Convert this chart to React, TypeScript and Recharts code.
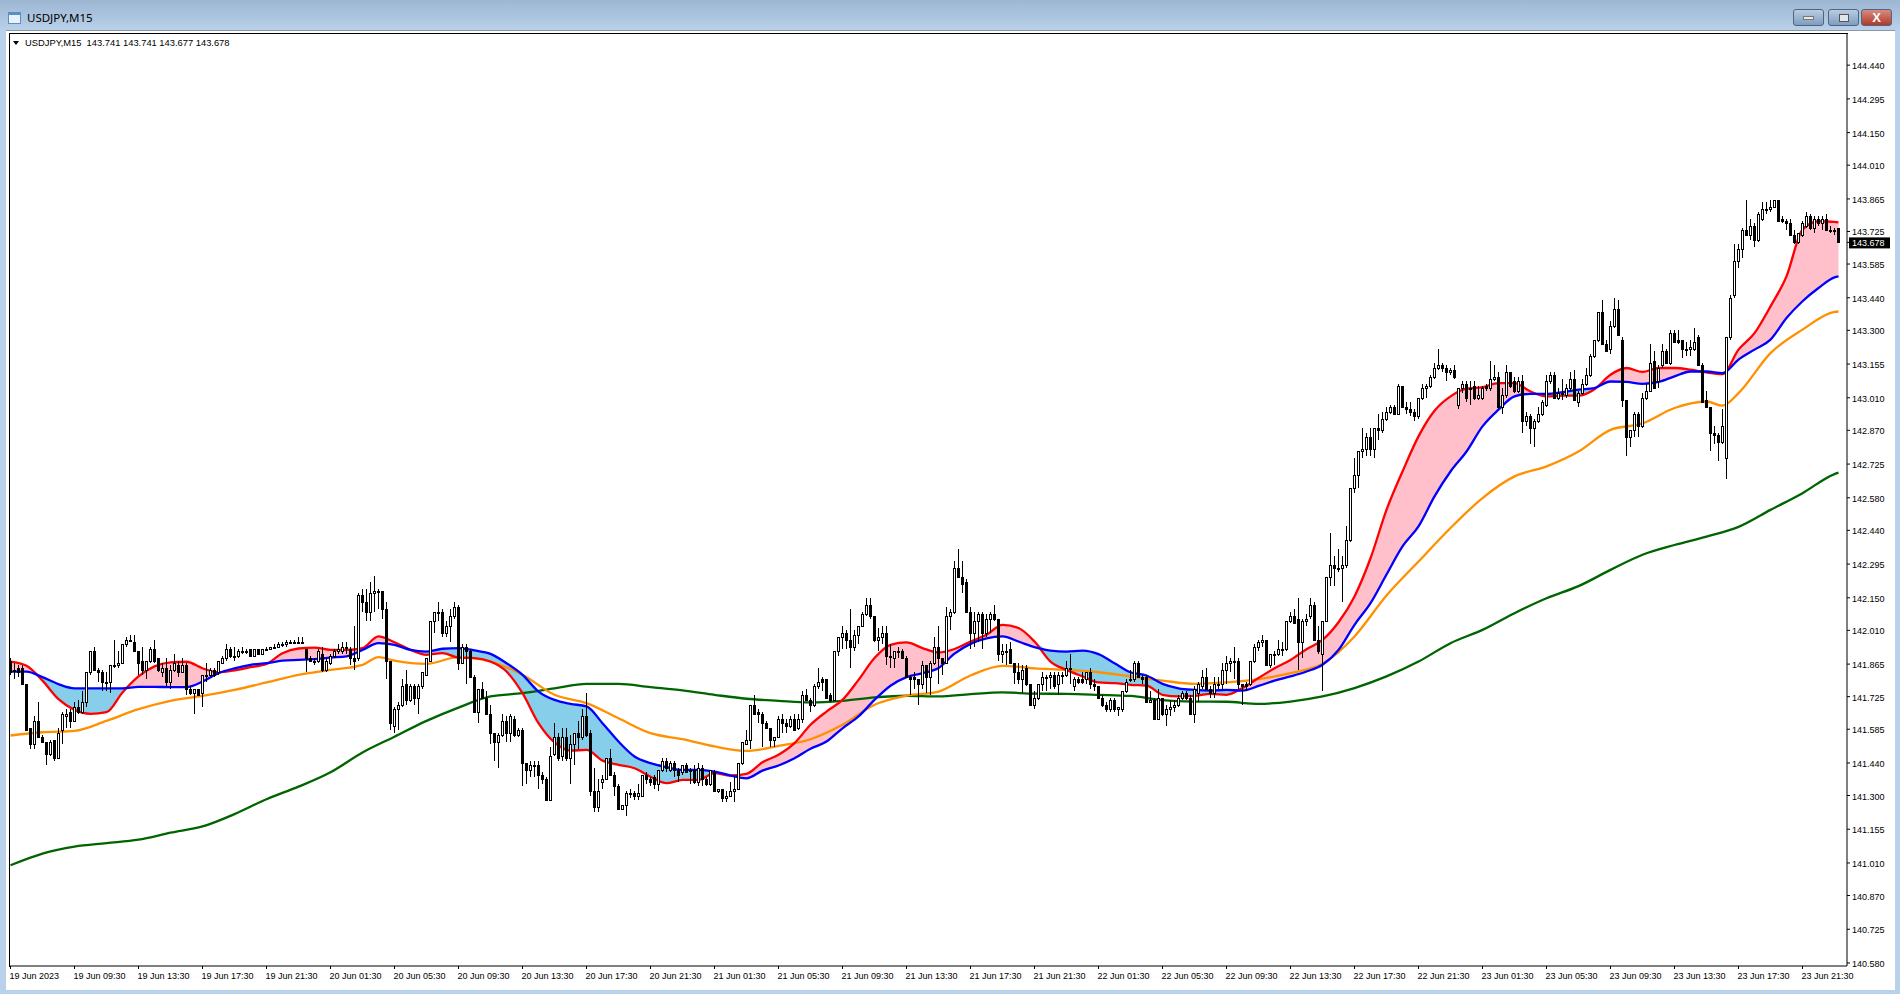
import React from 'react'
import { ComposedChart, Area, Bar, Line, XAxis, YAxis } from 'recharts'

// [open, high, low, close] per M15 bar
const candles = [
  [141.88,141.89,141.82,141.83],[141.84,141.87,141.80,141.84],[141.85,141.86,141.81,141.83],[141.85,141.86,141.78,141.78],
  [141.78,141.78,141.58,141.58],[141.59,141.59,141.50,141.52],[141.52,141.64,141.50,141.62],[141.62,141.70,141.55,141.55],
  [141.55,141.56,141.53,141.53],[141.53,141.53,141.43,141.48],[141.48,141.54,141.47,141.53],[141.54,141.54,141.45,141.46],
  [141.46,141.59,141.46,141.57],[141.58,141.66,141.52,141.65],[141.64,141.67,141.59,141.65],[141.66,141.67,141.59,141.62],
  [141.62,141.70,141.62,141.68],[141.68,141.71,141.65,141.66],[141.66,141.75,141.65,141.70],[141.70,141.83,141.68,141.83],
  [141.83,141.92,141.82,141.92],[141.92,141.94,141.84,141.84],[141.84,141.85,141.79,141.83],[141.83,141.84,141.75,141.79],
  [141.79,141.83,141.75,141.79],[141.79,141.86,141.74,141.86],[141.86,141.97,141.85,141.86],[141.86,141.92,141.85,141.87],
  [141.87,141.95,141.87,141.95],[141.95,141.98,141.94,141.97],[141.97,141.99,141.96,141.97],[141.96,141.99,141.92,141.92],
  [141.92,141.92,141.82,141.87],[141.88,141.94,141.82,141.84],[141.84,141.88,141.80,141.88],[141.88,141.94,141.87,141.93],
  [141.93,141.97,141.87,141.88],[141.89,141.89,141.83,141.84],[141.83,141.87,141.81,141.85],[141.85,141.89,141.77,141.79],
  [141.79,141.86,141.76,141.84],[141.84,141.91,141.83,141.87],[141.86,141.88,141.81,141.83],[141.83,141.89,141.83,141.86],
  [141.86,141.87,141.73,141.76],[141.76,141.77,141.73,141.74],[141.74,141.76,141.65,141.76],[141.76,141.76,141.73,141.73],
  [141.74,141.82,141.68,141.82],[141.82,141.87,141.79,141.82],[141.82,141.85,141.81,141.84],[141.84,141.85,141.81,141.82],
  [141.83,141.88,141.82,141.88],[141.87,141.90,141.87,141.89],[141.89,141.95,141.88,141.93],[141.93,141.94,141.89,141.90],
  [141.90,141.94,141.88,141.90],[141.90,141.93,141.89,141.92],[141.92,141.94,141.91,141.92],[141.92,141.93,141.91,141.92],
  [141.93,141.93,141.90,141.90],[141.90,141.93,141.90,141.93],[141.93,141.93,141.91,141.91],[141.91,141.93,141.91,141.93],
  [141.93,141.94,141.92,141.93],[141.93,141.94,141.93,141.94],[141.94,141.95,141.93,141.94],[141.94,141.96,141.94,141.95],
  [141.95,141.96,141.94,141.95],[141.95,141.97,141.94,141.96],[141.96,141.97,141.95,141.96],[141.96,141.97,141.95,141.96],
  [141.96,141.98,141.95,141.96],[141.96,141.98,141.95,141.96],[141.93,141.93,141.83,141.89],[141.89,141.90,141.88,141.88],
  [141.88,141.89,141.86,141.88],[141.88,141.93,141.87,141.92],[141.91,141.94,141.83,141.84],[141.84,141.89,141.83,141.88],
  [141.87,141.91,141.86,141.90],[141.90,141.93,141.89,141.92],[141.92,141.95,141.91,141.93],[141.92,141.96,141.91,141.94],
  [141.94,141.96,141.91,141.94],[141.93,141.94,141.86,141.89],[141.89,142.03,141.84,141.88],[141.89,142.17,141.88,142.16],
  [142.16,142.19,142.09,142.13],[142.13,142.19,142.05,142.09],[142.09,142.22,142.05,142.17],[142.17,142.245,142.09,142.18],
  [142.18,142.19,142.10,142.18],[142.18,142.18,142.06,142.10],[142.10,142.13,141.80,141.88],[141.88,141.88,141.58,141.61],
  [141.60,141.68,141.57,141.67],[141.67,141.70,141.58,141.69],[141.69,141.80,141.68,141.77],[141.78,141.84,141.69,141.71],
  [141.71,141.78,141.70,141.77],[141.77,141.78,141.69,141.72],[141.72,141.78,141.65,141.77],[141.77,141.83,141.76,141.83],
  [141.82,141.89,141.82,141.89],[141.88,142.05,141.88,142.05],[142.05,142.09,142.00,142.09],[142.09,142.13,142.05,142.09],
  [142.09,142.10,141.98,142.00],[142.00,142.05,141.98,142.03],[142.03,142.10,141.96,142.07],[142.07,142.13,142.06,142.11],
  [142.11,142.12,141.84,141.87],[141.87,141.95,141.87,141.94],[141.94,141.95,141.78,141.92],[141.92,141.93,141.81,141.81],
  [141.81,141.82,141.66,141.66],[141.66,141.76,141.61,141.76],[141.76,141.79,141.72,141.72],[141.72,141.75,141.65,141.65],
  [141.65,141.69,141.52,141.57],[141.57,141.57,141.45,141.53],[141.53,141.57,141.42,141.56],[141.56,141.65,141.55,141.62],
  [141.62,141.64,141.53,141.57],[141.57,141.65,141.53,141.64],[141.63,141.64,141.55,141.56],[141.56,141.59,141.55,141.58],
  [141.58,141.59,141.34,141.44],[141.44,141.44,141.35,141.41],[141.41,141.45,141.38,141.43],[141.43,141.45,141.38,141.43],
  [141.43,141.45,141.33,141.39],[141.39,141.40,141.35,141.37],[141.37,141.38,141.28,141.28],[141.28,141.51,141.28,141.47],
  [141.48,141.61,141.47,141.55],[141.55,141.57,141.45,141.46],[141.47,141.59,141.45,141.55],[141.55,141.59,141.45,141.46],
  [141.46,141.56,141.35,141.52],[141.52,141.57,141.43,141.57],[141.57,141.62,141.50,141.55],[141.55,141.67,141.54,141.64],
  [141.64,141.74,141.55,141.56],[141.57,141.58,141.30,141.32],[141.32,141.42,141.23,141.25],[141.25,141.37,141.23,141.32],
  [141.36,141.39,141.33,141.37],[141.37,141.46,141.37,141.46],[141.46,141.50,141.39,141.39],[141.39,141.40,141.30,141.34],
  [141.34,141.35,141.24,141.24],[141.24,141.26,141.24,141.26],[141.26,141.32,141.21,141.31],[141.31,141.33,141.29,141.31],
  [141.31,141.32,141.28,141.30],[141.30,141.35,141.28,141.31],[141.30,141.39,141.30,141.39],[141.39,141.40,141.35,141.37],
  [141.37,141.38,141.34,141.36],[141.38,141.39,141.33,141.35],[141.35,141.41,141.32,141.41],[141.41,141.46,141.40,141.45],
  [141.45,141.46,141.40,141.42],[141.41,141.45,141.40,141.44],[141.44,141.45,141.38,141.41],[141.41,141.42,141.36,141.39],
  [141.40,141.43,141.39,141.43],[141.43,141.44,141.40,141.40],[141.41,141.42,141.35,141.41],[141.41,141.43,141.35,141.36],
  [141.36,141.44,141.34,141.42],[141.42,141.43,141.34,141.37],[141.37,141.38,141.34,141.35],[141.35,141.41,141.34,141.41],
  [141.40,141.41,141.32,141.32],[141.32,141.33,141.31,141.33],[141.33,141.33,141.27,141.29],[141.29,141.32,141.27,141.30],
  [141.30,141.36,141.30,141.32],[141.32,141.38,141.27,141.33],[141.33,141.44,141.33,141.44],[141.44,141.53,141.43,141.53],
  [141.52,141.58,141.52,141.54],[141.54,141.69,141.50,141.69],[141.69,141.73,141.65,141.65],[141.66,141.67,141.61,141.65],
  [141.65,141.66,141.51,141.61],[141.61,141.62,141.59,141.59],[141.59,141.59,141.51,141.54],[141.54,141.55,141.51,141.55],
  [141.55,141.64,141.55,141.63],[141.63,141.65,141.57,141.61],[141.61,141.63,141.57,141.60],[141.60,141.64,141.59,141.63],
  [141.63,141.65,141.58,141.58],[141.59,141.65,141.58,141.63],[141.63,141.75,141.61,141.73],[141.73,141.76,141.71,141.71],
  [141.71,141.72,141.66,141.69],[141.69,141.78,141.68,141.77],[141.77,141.85,141.76,141.79],[141.80,141.81,141.75,141.79],
  [141.80,141.80,141.72,141.72],[141.73,141.74,141.70,141.71],[141.71,141.92,141.71,141.92],[141.92,141.98,141.90,141.98],
  [141.98,142.03,141.93,142.00],[142.00,142.01,141.93,141.97],[141.97,142.10,141.85,141.94],[141.94,142.01,141.92,141.99],
  [141.99,142.03,141.95,142.03],[142.03,142.09,142.03,142.08],[142.08,142.15,142.07,142.12],[142.12,142.15,142.06,142.07],
  [142.07,142.07,141.96,141.97],[141.97,142.02,141.92,141.98],[141.98,142.03,141.95,142.00],[142.00,142.03,141.86,141.90],
  [141.90,141.95,141.85,141.90],[141.89,141.92,141.85,141.92],[141.92,141.94,141.89,141.92],[141.92,141.93,141.89,141.89],
  [141.89,141.90,141.81,141.81],[141.81,141.82,141.73,141.80],[141.81,141.83,141.76,141.80],[141.80,141.80,141.69,141.78],
  [141.78,141.88,141.76,141.86],[141.86,141.86,141.74,141.81],[141.81,141.88,141.73,141.87],[141.87,141.98,141.86,141.94],
  [141.94,142.03,141.78,141.89],[141.89,141.89,141.82,141.87],[141.87,142.11,141.87,142.07],[142.07,142.10,142.01,142.09],
  [142.09,142.31,142.08,142.28],[142.28,142.36,142.24,142.24],[142.24,142.31,142.17,142.21],[142.22,142.23,142.09,142.09],
  [142.09,142.11,141.93,142.00],[142.00,142.09,141.94,142.05],[142.05,142.09,141.96,142.08],[142.08,142.09,141.93,142.00],
  [142.00,142.08,141.98,142.06],[142.06,142.09,142.00,142.08],[142.08,142.12,142.05,142.06],[142.06,142.06,141.88,141.91],
  [141.91,141.95,141.87,141.92],[141.92,141.95,141.86,141.92],[141.93,141.96,141.87,141.87],[141.87,141.87,141.78,141.83],
  [141.83,141.87,141.78,141.80],[141.80,141.86,141.74,141.84],[141.85,141.86,141.77,141.78],[141.78,141.78,141.69,141.69],
  [141.69,141.75,141.67,141.72],[141.72,141.78,141.71,141.78],[141.78,141.83,141.75,141.81],[141.81,141.82,141.75,141.81],
  [141.81,141.83,141.76,141.82],[141.82,141.83,141.76,141.77],[141.78,141.83,141.73,141.82],[141.82,141.83,141.78,141.82],
  [141.82,141.88,141.81,141.85],[141.85,141.91,141.78,141.85],[141.77,141.81,141.75,141.80],[141.80,141.81,141.78,141.79],
  [141.80,141.83,141.78,141.79],[141.80,141.83,141.78,141.83],[141.83,141.85,141.76,141.78],[141.78,141.80,141.75,141.77],
  [141.77,141.77,141.72,141.72],[141.72,141.73,141.68,141.69],[141.69,141.70,141.66,141.67],[141.67,141.72,141.66,141.71],
  [141.71,141.72,141.66,141.67],[141.67,141.68,141.64,141.68],[141.67,141.75,141.66,141.75],[141.75,141.80,141.74,141.79],
  [141.80,141.84,141.79,141.80],[141.80,141.88,141.79,141.87],[141.87,141.88,141.81,141.81],[141.81,141.82,141.78,141.80],
  [141.81,141.82,141.70,141.70],[141.70,141.75,141.70,141.71],[141.71,141.72,141.63,141.63],[141.63,141.76,141.63,141.72],
  [141.72,141.72,141.64,141.65],[141.65,141.69,141.60,141.67],[141.67,141.71,141.64,141.68],[141.68,141.71,141.66,141.69],
  [141.69,141.73,141.68,141.72],[141.72,141.75,141.71,141.74],[141.74,141.75,141.71,141.72],[141.72,141.73,141.65,141.65],
  [141.65,141.77,141.61,141.76],[141.74,141.79,141.70,141.78],[141.77,141.84,141.76,141.81],[141.81,141.85,141.76,141.76],
  [141.76,141.77,141.72,141.74],[141.74,141.81,141.72,141.78],[141.78,141.81,141.76,141.78],[141.78,141.87,141.76,141.84],
  [141.84,141.90,141.78,141.87],[141.87,141.89,141.83,141.88],[141.88,141.94,141.80,141.88],[141.88,141.89,141.76,141.78],
  [141.78,141.78,141.69,141.77],[141.78,141.79,141.75,141.77],[141.78,141.88,141.77,141.88],[141.88,141.95,141.87,141.94],
  [141.94,141.97,141.92,141.96],[141.96,141.99,141.94,141.97],[141.97,141.97,141.86,141.86],[141.86,141.91,141.85,141.91],
  [141.91,141.92,141.86,141.91],[141.91,141.97,141.90,141.93],[141.93,141.96,141.90,141.93],[141.93,142.05,141.92,142.05],
  [142.05,142.09,142.04,142.07],[142.07,142.10,142.04,142.04],[142.06,142.15,141.84,141.96],[141.96,142.06,141.89,142.05],
  [142.05,142.08,142.03,142.06],[142.07,142.15,142.06,142.12],[142.12,142.13,141.97,141.97],[141.97,142.03,141.91,141.92],
  [141.91,142.05,141.75,142.05],[142.05,142.24,142.05,142.24],[142.24,142.43,142.20,142.29],[142.29,142.33,142.20,142.28],
  [142.28,142.36,142.26,142.28],[142.28,142.33,142.13,142.29],[142.29,142.46,142.28,142.40],[142.40,142.62,142.39,142.62],
  [142.62,142.75,142.60,142.68],[142.68,142.78,142.62,142.78],[142.78,142.88,142.75,142.79],[142.79,142.86,142.76,142.84],
  [142.84,142.88,142.76,142.79],[142.79,142.88,142.75,142.88],[142.88,142.94,142.83,142.87],[142.87,142.95,142.86,142.92],
  [142.92,142.97,142.91,142.95],[142.95,142.98,142.94,142.97],[142.97,142.98,142.94,142.94],[142.94,143.07,142.94,143.06],
  [143.06,143.06,142.97,142.97],[142.97,142.99,142.94,142.96],[142.96,142.99,142.93,142.95],[142.95,142.96,142.91,142.93],
  [142.93,143.01,142.92,143.01],[143.01,143.07,143.00,143.05],[143.05,143.07,143.01,143.06],[143.06,143.11,143.05,143.10],
  [143.10,143.16,143.09,143.14],[143.14,143.22,143.13,143.15],[143.15,143.16,143.12,143.14],[143.14,143.15,143.08,143.12],
  [143.12,143.14,143.11,143.13],[143.13,143.15,143.09,143.10],[142.98,143.05,142.96,143.05],[143.05,143.08,143.03,143.07],
  [143.07,143.08,142.99,143.01],[143.05,143.08,142.98,143.05],[143.06,143.08,143.00,143.01],[143.01,143.06,143.00,143.02],
  [143.01,143.06,143.00,143.05],[143.06,143.07,143.04,143.05],[143.05,143.17,143.04,143.09],[143.09,143.15,143.08,143.10],
  [143.10,143.12,142.96,142.97],[142.97,143.05,142.94,143.02],[143.02,143.15,143.01,143.12],[143.12,143.12,143.05,143.06],
  [143.08,143.10,143.03,143.04],[143.04,143.10,143.03,143.08],[143.08,143.11,142.86,142.91],[142.91,142.95,142.89,142.93],
  [142.93,142.94,142.81,142.88],[142.88,142.92,142.80,142.91],[142.91,142.97,142.90,142.94],[142.94,143.00,142.93,142.99],
  [142.98,143.11,142.97,143.08],[143.08,143.12,143.07,143.11],[143.11,143.12,143.01,143.01],[143.01,143.05,143.00,143.03],
  [143.03,143.09,143.00,143.03],[143.02,143.07,143.01,143.05],[143.05,143.12,143.04,143.09],[143.09,143.13,143.00,143.00],
  [142.99,143.04,142.97,143.03],[143.03,143.09,143.02,143.07],[143.07,143.14,143.06,143.11],[143.11,143.20,143.10,143.19],
  [143.19,143.26,143.18,143.26],[143.26,143.38,143.25,143.38],[143.38,143.43,143.24,143.24],[143.24,143.26,143.21,143.21],
  [143.22,143.34,143.20,143.32],[143.32,143.44,143.31,143.39],[143.39,143.43,143.28,143.28],[143.26,143.27,142.97,143.00],
  [143.00,143.00,142.76,142.84],[142.84,142.87,142.80,142.87],[142.87,142.95,142.84,142.94],[142.94,142.95,142.84,142.89],
  [142.89,143.03,142.88,143.01],[143.01,143.07,143.00,143.04],[143.04,143.24,143.04,143.16],[143.17,143.21,143.05,143.05],
  [143.08,143.15,143.05,143.14],[143.15,143.24,143.14,143.21],[143.21,143.22,143.16,143.16],[143.16,143.30,143.15,143.29],
  [143.29,143.30,143.25,143.25],[143.26,143.30,143.24,143.25],[143.26,143.26,143.18,143.22],[143.22,143.25,143.19,143.22],
  [143.22,143.26,143.19,143.23],[143.22,143.31,143.21,143.25],[143.27,143.28,143.15,143.15],[143.15,143.16,142.99,142.99],
  [143.00,143.04,142.97,142.97],[142.97,142.97,142.78,142.86],[142.86,142.89,142.81,142.85],[142.85,142.86,142.74,142.82],
  [142.82,142.96,142.81,142.89],[142.75,143.27,142.66,143.27],[143.27,143.45,143.26,143.44],[143.45,143.67,143.44,143.60],
  [143.60,143.67,143.57,143.65],[143.65,143.74,143.61,143.73],[143.73,143.86,143.71,143.71],[143.71,143.78,143.69,143.75],
  [143.75,143.76,143.66,143.69],[143.69,143.81,143.68,143.80],[143.78,143.85,143.77,143.82],[143.82,143.85,143.80,143.82],
  [143.82,143.86,143.81,143.83],[143.83,143.86,143.83,143.86],[143.86,143.86,143.77,143.77],[143.78,143.79,143.76,143.77],
  [143.77,143.78,143.73,143.76],[143.76,143.78,143.71,143.71],[143.71,143.73,143.67,143.68],[143.68,143.72,143.67,143.72],
  [143.71,143.77,143.70,143.76],[143.75,143.81,143.74,143.79],[143.79,143.80,143.73,143.74],[143.74,143.79,143.72,143.78],
  [143.78,143.79,143.75,143.76],[143.76,143.79,143.73,143.78],[143.78,143.80,143.73,143.73],[143.73,143.75,143.72,143.73],
  [143.73,143.74,143.71,143.73],[143.741,143.741,143.677,143.678],
]

// fast pair, one reading every 4 bars plus the last bar
const redLine = [
  141.876,141.858,141.794,141.714,141.668,141.651,141.658,141.743,141.812,141.855,141.872,141.875,141.847,141.830,141.838,141.852,141.866,141.912,141.932,141.936,
  141.926,141.926,141.934,141.984,141.959,141.926,141.905,141.912,141.893,141.891,141.876,141.833,141.740,141.611,141.528,141.493,141.496,141.450,141.432,141.417,
  141.381,141.353,141.367,141.367,141.396,141.386,141.393,141.443,141.475,141.525,141.604,141.661,141.711,141.797,141.891,141.948,141.958,141.934,141.915,141.930,
  141.962,141.991,142.034,142.020,141.962,141.876,141.840,141.812,141.786,141.783,141.776,141.773,141.733,141.726,141.728,141.737,
  141.733,141.762,141.805,141.847,141.883,141.929,141.969,142.045,142.156,
  142.320,142.528,142.693,142.844,142.954,143.016,143.049,143.056,143.073,143.073,143.037,143.016,143.019,143.019,143.047,
  143.109,143.138,143.121,143.138,143.138,143.131,143.119,143.112,143.217,143.288,143.403,143.532,143.733,143.769,143.766,143.764,
]
const blueLine = [
  141.833,141.833,141.809,141.779,141.761,141.761,141.761,141.761,141.767,141.767,141.766,141.766,141.790,141.826,141.847,141.862,141.869,141.880,141.883,141.886,
  141.893,141.898,141.926,141.955,141.948,141.926,141.919,141.931,141.934,141.924,141.909,141.869,141.819,141.747,141.711,141.694,141.683,141.611,141.532,141.468,
  141.439,141.422,141.410,141.410,141.403,141.386,141.374,141.407,141.429,141.460,141.501,141.532,141.589,141.640,141.711,141.772,141.809,141.826,141.848,141.910,
  141.952,141.976,141.984,141.962,141.938,141.923,141.919,141.923,141.908,141.869,141.830,141.816,141.780,141.761,141.754,141.751,
  141.754,141.751,141.771,141.794,141.812,141.833,141.862,141.926,142.034,
  142.127,142.250,142.371,142.457,142.586,142.693,142.779,142.887,142.959,143.016,143.027,143.027,143.034,143.045,143.052,
  143.080,143.078,143.070,143.078,143.102,143.123,143.123,143.116,143.174,143.217,143.260,143.353,143.425,143.482,143.528,143.532,
]

// slow pair, one reading every 8 bars plus the last bar
const orangeLine = [
  141.558,141.572,141.578,141.621,141.671,141.707,141.728,141.754,141.786,141.819,
  141.84,141.862,141.88,141.866,141.895,141.876,141.819,141.733,141.697,141.632,
  141.568,141.542,141.511,141.492,141.513,141.542,141.604,141.69,141.729,141.747,
  141.816,141.857,141.847,141.84,141.83,141.812,141.794,141.78,
  141.786,141.80,141.826,141.866,141.984,142.16,142.306,142.45,142.579,142.672,142.715,142.779,
  142.872,142.90,142.966,142.994,143.03,143.202,143.303,143.379,143.381,
]
const greenLine = [
  141.0,141.05,141.08,141.095,141.11,141.14,141.167,141.22,141.284,141.338,
  141.40,141.485,141.553,141.621,141.678,141.726,141.74,141.761,141.78,141.78,
  141.766,141.752,141.733,141.716,141.707,141.70,141.707,141.722,141.729,141.726,
  141.736,141.743,141.738,141.737,141.733,141.728,141.71,141.704,
  141.703,141.694,141.704,141.726,141.762,141.812,141.876,141.955,142.012,142.084,142.148,142.2,
  142.27,142.335,142.377,142.413,142.455,142.528,142.6,142.682,142.688,
]
// extra orange readings at its turning points, outside the 8-bar grid
const orangeTurnBars = [92, 428]
const orangeTurnValues = [141.895, 142.976]

const priceTicks = [
  144.44,144.295,144.15,144.01,143.865,143.725,143.585,143.44,143.3,143.155,143.01,142.87,142.725,142.58,
  142.44,142.295,142.15,142.01,141.865,141.725,141.585,141.44,141.3,141.155,141.01,140.87,140.725,140.58,
]
const lastPrice = 143.678
const timeLabels = [
  '19 Jun 2023','19 Jun 09:30','19 Jun 13:30','19 Jun 17:30','19 Jun 21:30',
  '20 Jun 01:30','20 Jun 05:30','20 Jun 09:30','20 Jun 13:30','20 Jun 17:30','20 Jun 21:30',
  '21 Jun 01:30','21 Jun 05:30','21 Jun 09:30','21 Jun 13:30','21 Jun 17:30','21 Jun 21:30',
  '22 Jun 01:30','22 Jun 05:30','22 Jun 09:30','22 Jun 13:30','22 Jun 17:30','22 Jun 21:30',
  '23 Jun 01:30','23 Jun 05:30','23 Jun 09:30','23 Jun 13:30','23 Jun 17:30','23 Jun 21:30',
]

const lastBar = candles.length - 1
const barAt = (step: number, k: number, total: number) => (k === total - 1 ? lastBar : k * step)

const bars = candles.map(([o, h, l, c], i) => ({ i, o, h, l, c, range: [l, h] }))
const fastRows = redLine.map((red, k) => {
  const blue = blueLine[k]
  return {
    i: barAt(4, k, redLine.length),
    red,
    blue,
    pink: [blue, Math.max(red, blue)],
    sky: [red, Math.max(red, blue)],
  }
})
const greenRows = greenLine.map((green, k) => ({ i: barAt(8, k, greenLine.length), green }))
const orangeRows = [
  ...orangeLine.map((orange, k) => ({ i: barAt(8, k, orangeLine.length), orange })),
  ...orangeTurnBars.map((i, k) => ({ i, orange: orangeTurnValues[k] })),
].sort((a, b) => a.i - b.i)
const timeTicks = timeLabels.map((_, k) => k * 16)

const FONT = '"Liberation Sans", Arial, sans-serif'

function Candle(props: any) {
  const { x, width, y, height, payload } = props
  const cx = Math.floor(x + width / 2) + 0.5
  const perUnit = payload.h > payload.l ? height / (payload.h - payload.l) : 0
  const top = Math.round(y + (payload.h - Math.max(payload.o, payload.c)) * perUnit) + 0.5
  const bottom = Math.round(y + (payload.h - Math.min(payload.o, payload.c)) * perUnit) + 0.5
  const down = payload.c < payload.o
  return (
    <g shapeRendering="crispEdges">
      <line x1={cx} x2={cx} y1={y} y2={y + height} stroke="#000" strokeWidth={1} />
      <rect x={cx - 1} y={top} width={2} height={Math.max(bottom - top, 1)} fill={down ? '#000' : '#fff'} stroke="#000" strokeWidth={1} />
    </g>
  )
}

function PriceTick(props: any) {
  const { x, y, payload } = props
  const isLast = payload.value === lastPrice
  return (
    <g>
      {isLast && <rect x={x - 3} y={y - 5} width={41} height={11} fill="#000" />}
      <text x={x} y={y + 4} fontFamily={FONT} fontSize={9} fill={isLast ? '#fff' : '#000'}>
        {payload.value.toFixed(3)}
      </text>
    </g>
  )
}

function TimeTick(props: any) {
  const { x, y, payload } = props
  return (
    <text x={x - 1} y={y + 8} fontFamily={FONT} fontSize={9} fill="#000">
      {timeLabels[payload.value / 16]}
    </text>
  )
}

function WindowButton({ left, color, children }: { left: number; color: string; children: React.ReactNode }) {
  return (
    <div
      style={{
        position: 'absolute',
        left,
        top: 9,
        width: 31,
        height: 17,
        boxSizing: 'border-box',
        border: '1px solid #4d6580',
        borderRadius: 3,
        background: color,
        display: 'flex',
        alignItems: 'center',
        justifyContent: 'center',
      }}
    >
      {children}
    </div>
  )
}

export default function App() {
  return (
    <div style={{ position: 'absolute', left: 0, top: 0, width: 1900, height: 994, overflow: 'hidden', background: '#b9d1ea' }}>
      {/* window title bar */}
      <div style={{ position: 'absolute', left: 0, top: 0, width: 1900, height: 31, background: 'linear-gradient(#9db6d2, #b9d1ea)' }} />
      <div style={{ position: 'absolute', left: 8, top: 12, width: 13, height: 12, boxSizing: 'border-box', border: '1px solid #5a8fc0', borderTop: '3px solid #5a8fc0', background: '#e8f2fb' }} />
      <div style={{ position: 'absolute', left: 27, top: 10, fontFamily: '"Noto Sans", sans-serif', fontSize: 11.5, color: '#000' }}>USDJPY,M15</div>
      <WindowButton left={1793} color="linear-gradient(#b9cde3, #7f9dbd)">
        <div style={{ width: 11, height: 4, background: '#e8e8e8', border: '1px solid #777', boxSizing: 'border-box' }} />
      </WindowButton>
      <WindowButton left={1828} color="linear-gradient(#b9cde3, #7f9dbd)">
        <div style={{ width: 10, height: 8, background: '#dfe6ee', border: '1px solid #555', boxSizing: 'border-box' }} />
      </WindowButton>
      <WindowButton left={1861} color="linear-gradient(#d98a80, #b03a2a)">
        <div style={{ color: '#fff', fontFamily: FONT, fontSize: 13, fontWeight: 700, lineHeight: '13px' }}>X</div>
      </WindowButton>

      {/* white client area and chart frame */}
      <div style={{ position: 'absolute', left: 6, top: 30, width: 1889, height: 959, background: '#fff', borderTop: '1px solid #8a97a5' }} />
      <div style={{ position: 'absolute', left: 9, top: 33, width: 1839, height: 934, boxSizing: 'border-box', borderTop: '1px solid #000', borderLeft: '1px solid #000' }} />

      <div style={{ position: 'absolute', left: 0, top: 0 }}>
        <ComposedChart
          width={1900}
          height={994}
          data={bars}
          margin={{ top: 34, right: 0, bottom: 0, left: 10 }}
        >
          <XAxis
            dataKey="i"
            type="number"
            domain={[-0.125, 459.125]}
            allowDataOverflow
            ticks={timeTicks}
            interval={0}
            height={28}
            tickSize={3}
            stroke="#000"
            tick={<TimeTick />}
          />
          <YAxis
            orientation="right"
            width={53}
            domain={[140.567, 144.574]}
            allowDataOverflow
            ticks={[...priceTicks, lastPrice]}
            interval={0}
            tickSize={3}
            stroke="#000"
            tick={<PriceTick />}
          />
          <Area data={fastRows} dataKey="pink" type="monotone" stroke="none" fill="#ffc0cb" fillOpacity={1} isAnimationActive={false} dot={false} activeDot={false} />
          <Area data={fastRows} dataKey="sky" type="monotone" stroke="none" fill="#87ceeb" fillOpacity={1} isAnimationActive={false} dot={false} activeDot={false} />
          <Line data={greenRows} dataKey="green" stroke="#006400" strokeWidth={2.3} type="monotone" dot={false} activeDot={false} isAnimationActive={false} />
          <Line data={orangeRows} dataKey="orange" stroke="#ff9000" strokeWidth={2.3} type="monotone" dot={false} activeDot={false} isAnimationActive={false} />
          <Line data={fastRows} dataKey="red" stroke="#ff0000" strokeWidth={2.3} type="monotone" dot={false} activeDot={false} isAnimationActive={false} />
          <Line data={fastRows} dataKey="blue" stroke="#0000ff" strokeWidth={2.3} type="monotone" dot={false} activeDot={false} isAnimationActive={false} />
          <Bar dataKey="range" barSize={3} shape={<Candle />} isAnimationActive={false} zIndex={450} />
        </ComposedChart>
      </div>

      {/* chart caption */}
      <div style={{ position: 'absolute', left: 13, top: 41, width: 0, height: 0, borderLeft: '3.5px solid transparent', borderRight: '3.5px solid transparent', borderTop: '4px solid #000' }} />
      <div style={{ position: 'absolute', left: 25, top: 38, fontFamily: FONT, fontSize: 9.36, lineHeight: '11px', color: '#000', whiteSpace: 'pre' }}>
        USDJPY,M15  143.741 143.741 143.677 143.678
      </div>
    </div>
  )
}
